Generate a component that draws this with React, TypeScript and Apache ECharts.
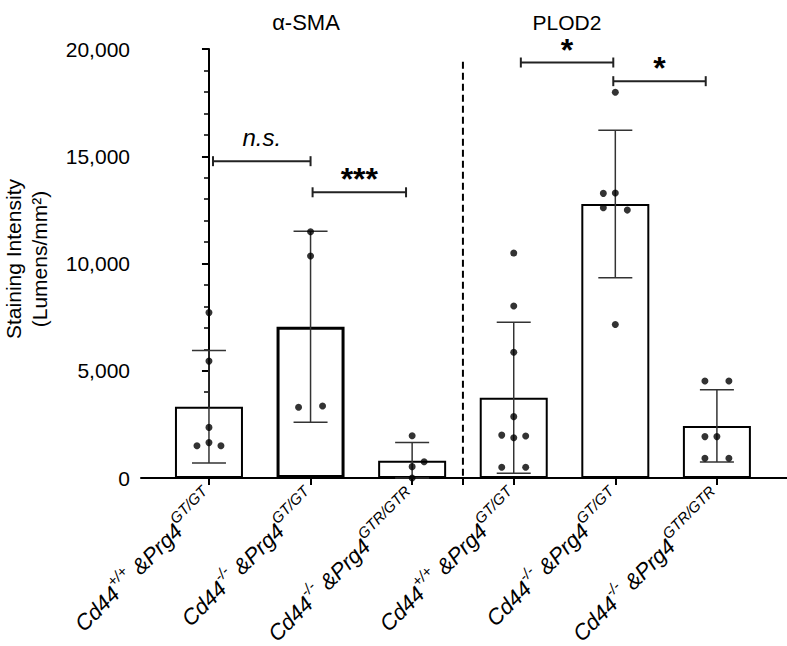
import React, { useEffect, useRef } from "react";
import * as echarts from "echarts";

// ---- data ----
const panelTitles = ["α-SMA", "PLOD2"];
const cd44Sup = ["+/+", "-/-", "-/-", "+/+", "-/-", "-/-"];
const prg4Sup = ["GT/GT", "GT/GT", "GTR/GTR", "GT/GT", "GT/GT", "GTR/GTR"];
const means = [3320, 7050, 800, 3740, 12770, 2430];
const sds = [2620, 4450, 850, 3520, 3440, 1680];
// individual points: [value, lane] (lane: -1 left, 0 centre, 1 right)
const dots1 = [[7710, 0], [5450, 0], [2360, 0], [1650, 0], [1500, -1], [1500, 1]];
const dots2 = [[11480, 0], [10350, 0], [3300, -1], [3360, 1]];
const dots3 = [[1970, 0], [760, 1], [530, 0], [0, 0]];
const dots4 = [[10490, 0], [8020, 0], [5860, 0], [2860, 0], [2000, -1], [1880, 0], [1960, 1], [500, -1], [500, 1]];
const dots5 = [[17980, 0], [13270, -1], [13290, 0], [12600, -1], [12490, 1], [7160, 0]];
const dots6 = [[4520, -1], [4520, 1], [1930, -1], [1930, 0], [920, -1], [920, 1]];
const allDots = [dots1, dots2, dots3, dots4, dots5, dots6];
// significance brackets: [from, to, height]
const bracketSpans = [[0.04, 1.0, 14770], [1.02, 1.94, 13320], [3.07, 3.98, 19370], [3.98, 4.89, 18500]];
const bracketLabels = ["n.s.", "***", "*", "*"];
const separatorTop = 19400;
const yTicks = [0, 5000, 10000, 15000, 20000];
const yTitle = ["Staining Intensity", "(Lumens/mm²)"];

const FONT = "'Liberation Sans', Arial, Helvetica, sans-serif";
const LANE = 0.118;

export default function App() {
  const ref = useRef<HTMLDivElement>(null);
  useEffect(() => {
    const chart = echarts.init(ref.current!, null, { renderer: "svg" });
    const barData = means.map((m, i) => [i, m]);
    const errData = means.map((m, i) => [i, m, sds[i]]);
    const dotData: number[][] = [];
    allDots.forEach((g, i) => g.forEach(([v, lane]) => dotData.push([i + lane * LANE, v])));
    const option: any = {
      animation: false,
      backgroundColor: "#fff",
      grid: { left: 141, right: 0, top: 49, bottom: 168, outerBoundsMode: "none", containLabel: false },
      xAxis: {
        type: "value",
        min: -0.669,
        max: 5.69,
        splitLine: { show: false },
        axisLine: { show: true, lineStyle: { color: "#000", width: 2 } },
        axisTick: { show: true, length: 7, lineStyle: { color: "#000", width: 2 }, customValues: [0, 1, 2, 2.5, 3, 4, 5] },
        axisLabel: {
          customValues: [0, 1, 2, 3, 4, 5],
          rotate: 45,
          margin: 15,
          formatter: (v: number) => {
            const i = Math.round(v);
            return `{i|Cd44}{s|${cd44Sup[i]}}{i| &Prg4}{s|${prg4Sup[i]}}`;
          },
          rich: {
            i: { fontFamily: FONT, fontStyle: "italic", fontSize: 22, color: "#000", verticalAlign: "bottom", lineHeight: 28 },
            s: { fontFamily: FONT, fontStyle: "italic", fontSize: 15, color: "#000", verticalAlign: "top", lineHeight: 15 },
          },
        },
      },
      yAxis: {
        type: "value",
        min: yTicks[0],
        max: yTicks[yTicks.length - 1],
        interval: 5000,
        splitLine: { show: false },
        axisLine: { show: true, lineStyle: { color: "#000", width: 2 } },
        axisTick: { show: true, length: 7, lineStyle: { color: "#000", width: 2 } },
        minorTick: { show: true, splitNumber: 5, length: 5, lineStyle: { color: "#000", width: 1.5 } },
        axisLabel: {
          fontFamily: FONT,
          fontSize: 21,
          color: "#000",
          margin: 11,
          formatter: (v: number) => v.toLocaleString("en-US"),
        },
      },
      series: [
        {
          type: "line",
          data: [[2.5, separatorTop], [2.5, 0]],
          showSymbol: false,
          silent: true,
          lineStyle: { color: "#000", width: 2, type: [7, 4] },
          z: 1,
        },
        {
          type: "bar",
          data: barData.map((d, i) => ({
            value: d,
            itemStyle: { color: "#fff", borderColor: "#000", borderWidth: i === 1 ? 3 : 2 },
          })),
          barWidth: 68,
          silent: true,
          z: 2,
        },
        {
          type: "custom",
          data: errData,
          encode: { x: 0, y: 1 },
          silent: true,
          z: 3,
          renderItem: (params: any, api: any) => {
            const x = api.value(0), m = api.value(1), sd = api.value(2);
            const top = api.coord([x, m + sd]);
            const bot = api.coord([x, Math.max(0, m - sd)]);
            const st = { stroke: "#333", lineWidth: 1.5 };
            return {
              type: "group",
              children: [
                { type: "line", shape: { x1: top[0], y1: top[1], x2: bot[0], y2: bot[1] }, style: st },
                { type: "line", shape: { x1: top[0] - 17, y1: top[1], x2: top[0] + 17, y2: top[1] }, style: st },
                { type: "line", shape: { x1: bot[0] - 17, y1: bot[1], x2: bot[0] + 17, y2: bot[1] }, style: st },
              ],
            };
          },
        },
        {
          type: "scatter",
          data: dotData,
          symbolSize: 7,
          itemStyle: { color: "#000" },
          silent: true,
          z: 4,
        },
        {
          type: "custom",
          data: bracketSpans,
          encode: { x: [0, 1], y: 2 },
          silent: true,
          z: 5,
          renderItem: (params: any, api: any) => {
            const x1 = api.value(0), x2 = api.value(1), y = api.value(2);
            const p1 = api.coord([x1, y]);
            const p2 = api.coord([x2, y]);
            const label = bracketLabels[params.dataIndex];
            const isStar = label.indexOf("*") >= 0;
            const st = { stroke: "#222", lineWidth: 2 };
            return {
              type: "group",
              children: [
                { type: "line", shape: { x1: p1[0], y1: p1[1], x2: p2[0], y2: p2[1] }, style: st },
                { type: "line", shape: { x1: p1[0], y1: p1[1] - 5, x2: p1[0], y2: p1[1] + 5 }, style: st },
                { type: "line", shape: { x1: p2[0], y1: p2[1] - 5, x2: p2[0], y2: p2[1] + 5 }, style: st },
                {
                  type: "text",
                  x: (p1[0] + p2[0]) / 2,
                  y: isStar ? p1[1] + 3 : p1[1] - 12,
                  style: {
                    text: label,
                    fontFamily: FONT,
                    fontSize: isStar ? 32 : 24,
                    fontStyle: isStar ? "normal" : "italic",
                    fontWeight: isStar ? "bold" : "normal",
                    fill: "#000",
                    textAlign: "center",
                    textVerticalAlign: "bottom",
                  },
                },
              ],
            };
          },
        },
      ],
      graphic: [
        { type: "text", x: 306, y: 22, style: { text: panelTitles[0], fontFamily: FONT, fontSize: 22, fill: "#000", textAlign: "center", textVerticalAlign: "middle" } },
        { type: "text", x: 567, y: 22, style: { text: panelTitles[1], fontFamily: FONT, fontSize: 21, fill: "#000", textAlign: "center", textVerticalAlign: "middle" } },
        { type: "text", x: 13, y: 259, rotation: Math.PI / 2, style: { text: yTitle[0], fontFamily: FONT, fontSize: 21, fill: "#000", textAlign: "center", textVerticalAlign: "middle" } },
        { type: "text", x: 39, y: 259, rotation: Math.PI / 2, style: { text: yTitle[1], fontFamily: FONT, fontSize: 21, fill: "#000", textAlign: "center", textVerticalAlign: "middle" } },
      ],
    };
    chart.setOption(option);
    return () => chart.dispose();
  }, []);
  return (
    <div
      ref={ref}
      style={{ position: "absolute", left: 0, top: 0, width: 787, height: 646, background: "#fff" }}
    />
  );
}
